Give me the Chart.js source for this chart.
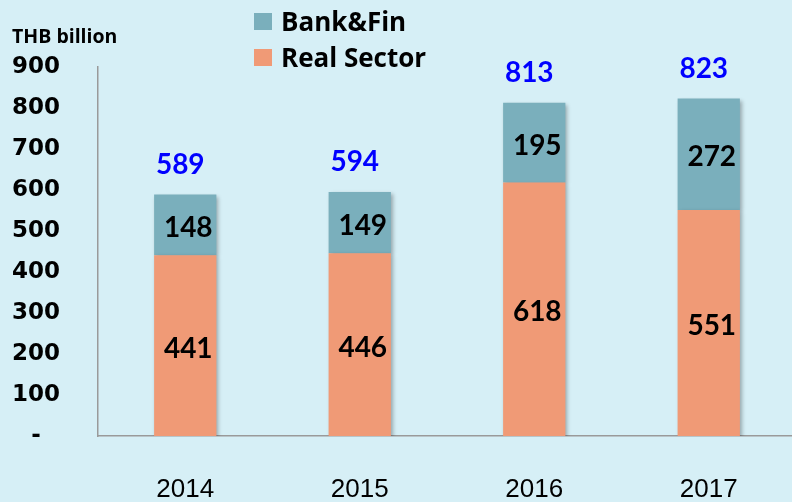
<!DOCTYPE html>
<html>
<head>
<meta charset="utf-8">
<script src="https://cdn.jsdelivr.net/npm/chart.js@4.4.1/dist/chart.umd.min.js"></script>
<style>
  html, body { margin: 0; padding: 0; background: #d6eff6; }
  #wrap { width: 792px; height: 502px; position: relative; overflow: hidden; }
</style>
</head>
<body>
<div id="wrap"><canvas id="chart" width="796" height="502"></canvas></div>
<script>
const years = ["2014", "2015", "2016", "2017"];
const realSector = [441, 446, 618, 551];
const bankFin = [148, 149, 195, 272];
const totals = [589, 594, 813, 823];
const yTicks = [0, 100, 200, 300, 400, 500, 600, 700, 800, 900];

const LABEL_FONT = "Lato, 'Open Sans', sans-serif";
const LEGEND_FONT = "'Open Sans', Lato, sans-serif";
const TICK_FONT = "'DejaVu Sans', sans-serif";
const BANK_COLOR = "#7aafbc";
const REAL_COLOR = "#f09a76";

const shadowPlugin = {
  id: "barShadow",
  beforeDatasetsDraw(chart) {
    const ctx = chart.ctx;
    ctx.save();
    ctx.shadowColor = "rgba(0, 0, 0, 0.3)";
    ctx.shadowBlur = 4;
    ctx.shadowOffsetX = 2;
    ctx.shadowOffsetY = 2;
  },
  afterDatasetsDraw(chart) {
    chart.ctx.restore();
  },
};

const labelsPlugin = {
  id: "barLabels",
  afterDraw(chart) {
    const ctx = chart.ctx;
    ctx.save();
    ctx.textAlign = "center";
    ctx.textBaseline = "alphabetic";
    ctx.font = `bold 28px ${LABEL_FONT}`;
    chart.data.datasets.forEach((ds, i) => {
      const meta = chart.getDatasetMeta(i);
      meta.data.forEach((bar, j) => {
        const mid = (bar.y + bar.base) / 2;
        ctx.fillStyle = "#000";
        ctx.fillText(String(ds.data[j]), bar.x + 3, mid + 12);
      });
    });
    // totals above the stack
    const top = chart.getDatasetMeta(1);
    ctx.fillStyle = "#0000ff";
    top.data.forEach((bar, j) => {
      ctx.fillText(String(totals[j]), bar.x - 5, bar.y - 21);
    });
    // unit
    ctx.textAlign = "left";
    ctx.font = `bold 19.5px ${LEGEND_FONT}`;
    ctx.fillStyle = "#000";
    ctx.fillText("THB billion", 12, 43);
    // legend
    const items = [
      { label: "Bank&Fin", color: BANK_COLOR, y: 31 },
      { label: "Real Sector", color: REAL_COLOR, y: 67 },
    ];
    ctx.font = `bold 26px ${LEGEND_FONT}`;
    items.forEach((item) => {
      ctx.fillStyle = item.color;
      ctx.fillRect(254, item.y - 18, 18, 17);
      ctx.fillStyle = "#000";
      ctx.fillText(item.label, 281, item.y);
    });
    ctx.restore();
  },
};

new Chart(document.getElementById("chart"), {
  type: "bar",
  data: {
    labels: years,
    datasets: [
      { label: "Real Sector", data: realSector, backgroundColor: REAL_COLOR },
      { label: "Bank&Fin", data: bankFin, backgroundColor: BANK_COLOR },
    ],
  },
  options: {
    responsive: false,
    animation: false,
    categoryPercentage: 0.357,
    barPercentage: 1,
    layout: { padding: { top: 67, right: 0, bottom: 0, left: 0 } },
    plugins: {
      legend: { display: false },
      tooltip: { enabled: false },
    },
    scales: {
      x: {
        stacked: true,
        grid: { display: false },
        border: { display: true, color: "#9a9a9a", width: 1.5 },
        ticks: {
          padding: 30,
          color: "#000",
          font: { family: "'Liberation Sans', Arial, sans-serif", size: 26 },
        },
        afterFit(scale) { scale.height = 66; },
      },
      y: {
        stacked: true,
        min: 0,
        max: 900,
        grid: { display: false },
        border: { display: true, color: "#9a9a9a", width: 1.5 },
        afterBuildTicks(scale) { scale.ticks = yTicks.map((v) => ({ value: v })); },
        ticks: {
          crossAlign: "center",
          padding: 30,
          color: "#000",
          font: { family: TICK_FONT, size: 23, weight: "bold" },
          callback: (v) => (v === 0 ? "-" : v),
        },
        afterFit(scale) { scale.width = 98; },
      },
    },
  },
  plugins: [shadowPlugin, labelsPlugin],
});
</script>
</body>
</html>
